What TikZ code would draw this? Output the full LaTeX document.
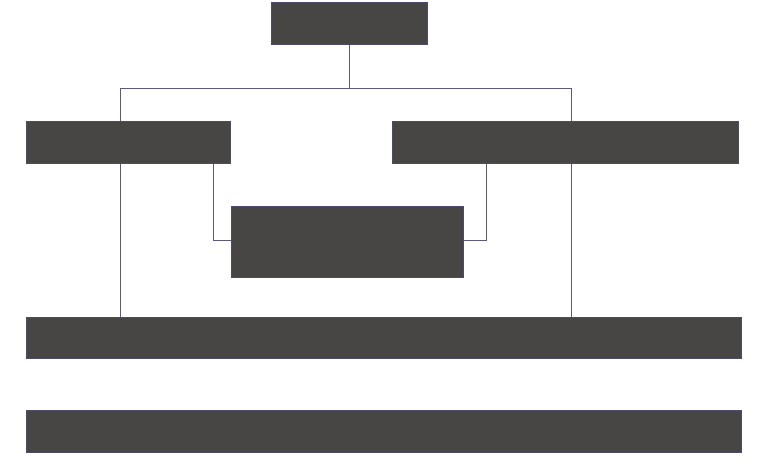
\documentclass[tikz,border=0pt]{standalone}
\usetikzlibrary{calc}
\definecolor{boxfill}{HTML}{484545}
\definecolor{boxedge}{HTML}{4C4C68}
\definecolor{linec}{HTML}{5A5A7E}
\begin{document}
\begin{tikzpicture}[x=1pt,y=-1pt,
  darkbox/.style={draw=boxedge,line width=1pt,fill=boxfill,rectangle,inner sep=0pt},
  conn/.style={draw=linec,line width=1pt}]
\useasboundingbox (0,0) rectangle (777,461);
\fill[white] (0,0) rectangle (777,461);
% boxes
\node[darkbox,minimum width=156pt,minimum height=42pt] (top) at (349,23) {};
\node[darkbox,minimum width=204pt,minimum height=42pt] (left) at (128,142) {};
\node[darkbox,minimum width=346pt,minimum height=42pt] (right) at (565,142) {};
\node[darkbox,minimum width=232pt,minimum height=71pt] (mid) at (347,241.5) {};
\node[darkbox,minimum width=715pt,minimum height=41pt] (bar1) at (383.5,337.5) {};
\node[darkbox,minimum width=715pt,minimum height=42pt] (bar2) at (383.5,431) {};
% junction coordinates
\coordinate (jl) at (120,88);
\coordinate (jr) at (571,88);
\coordinate (ml) at (213,240);
\coordinate (mr) at (486,240);
% connectors
\draw[conn] (top.south) -- (top.south |- jl);
\draw[conn] (left.north -| jl) -- (jl) -- (jr) -- (right.north -| jr);
\draw[conn] (left.south -| jl) -- (bar1.north -| jl);
\draw[conn] (right.south -| jr) -- (bar1.north -| jr);
\draw[conn] (left.south -| ml) -- (ml) -- (mid.west |- ml);
\draw[conn] (right.south -| mr) -- (mr) -- (mid.east |- mr);
\end{tikzpicture}
\end{document}
